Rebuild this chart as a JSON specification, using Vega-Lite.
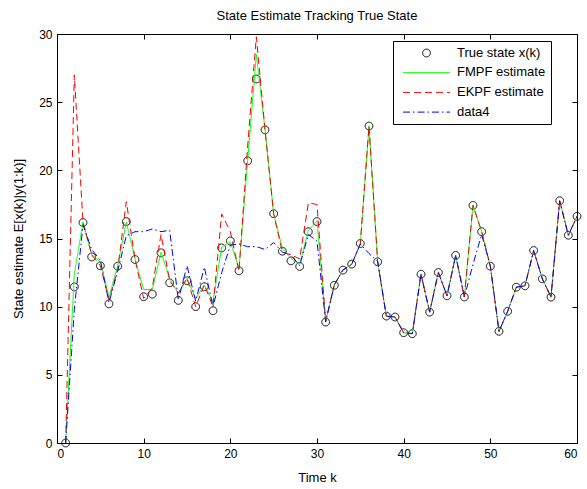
{
  "$schema": "https://vega.github.io/schema/vega-lite/v6.json",
  "width": 520,
  "height": 409,
  "autosize": {"type": "none"},
  "padding": {"left": 57, "top": 34, "right": 10, "bottom": 46},
  "background": "white",
  "title": {
    "text": "State Estimate Tracking True State",
    "font": "Liberation Sans",
    "fontSize": 13,
    "fontWeight": "normal",
    "color": "black",
    "offset": 5
  },
  "config": {
    "view": {"stroke": "black", "strokeWidth": 1},
    "axis": {
      "labelFont": "Liberation Sans",
      "labelFontSize": 12,
      "labelColor": "black",
      "titleFont": "Liberation Sans",
      "titleFontSize": 13,
      "titleFontWeight": "normal",
      "titleColor": "black",
      "grid": false,
      "domainColor": "black",
      "tickColor": "black",
      "tickSize": -5
    }
  },
  "data": {
    "values": [
      {"k": 1, "truth": 0, "fmpf": 0, "ekpf": 0, "data4": 0},
      {"k": 2, "truth": 11.45, "fmpf": 12.4, "ekpf": 27.0, "data4": 9.8},
      {"k": 3, "truth": 16.17, "fmpf": 16.2, "ekpf": 16.2, "data4": 16.0},
      {"k": 4, "truth": 13.65, "fmpf": 13.8, "ekpf": 13.8, "data4": 14.2},
      {"k": 5, "truth": 13.0, "fmpf": 13.3, "ekpf": 13.0, "data4": 13.4},
      {"k": 6, "truth": 10.21, "fmpf": 10.7, "ekpf": 10.5, "data4": 10.3},
      {"k": 7, "truth": 12.97, "fmpf": 13.0, "ekpf": 12.7, "data4": 12.6},
      {"k": 8, "truth": 16.24, "fmpf": 16.2, "ekpf": 17.7, "data4": 15.2},
      {"k": 9, "truth": 13.46, "fmpf": 13.5, "ekpf": 13.5, "data4": 15.5},
      {"k": 10, "truth": 10.73, "fmpf": 11.26, "ekpf": 10.6, "data4": 15.5},
      {"k": 11, "truth": 10.92, "fmpf": 11.26, "ekpf": 11.4, "data4": 15.7},
      {"k": 12, "truth": 13.95, "fmpf": 14.0, "ekpf": 15.3, "data4": 15.5},
      {"k": 13, "truth": 11.75, "fmpf": 12.07, "ekpf": 11.9, "data4": 15.6},
      {"k": 14, "truth": 10.46, "fmpf": 10.97, "ekpf": 11.0, "data4": 10.5},
      {"k": 15, "truth": 11.9, "fmpf": 12.07, "ekpf": 12.1, "data4": 13.0},
      {"k": 16, "truth": 10.0, "fmpf": 10.6, "ekpf": 10.0, "data4": 10.4},
      {"k": 17, "truth": 11.46, "fmpf": 11.58, "ekpf": 11.6, "data4": 12.9},
      {"k": 18, "truth": 9.7, "fmpf": 10.36, "ekpf": 10.0, "data4": 10.0},
      {"k": 19, "truth": 14.31, "fmpf": 14.38, "ekpf": 16.8, "data4": 12.5},
      {"k": 20, "truth": 14.82, "fmpf": 14.75, "ekpf": 15.5, "data4": 14.5},
      {"k": 21, "truth": 12.63, "fmpf": 12.8, "ekpf": 12.6, "data4": 14.6},
      {"k": 22, "truth": 20.7, "fmpf": 20.7, "ekpf": 21.8, "data4": 14.4},
      {"k": 23, "truth": 26.7, "fmpf": 28.5, "ekpf": 29.8, "data4": 14.4},
      {"k": 24, "truth": 22.97, "fmpf": 23.0, "ekpf": 23.0, "data4": 14.2},
      {"k": 25, "truth": 16.82, "fmpf": 16.82, "ekpf": 16.8, "data4": 14.7},
      {"k": 26, "truth": 14.07, "fmpf": 14.27, "ekpf": 14.0, "data4": 14.0},
      {"k": 27, "truth": 13.36, "fmpf": 13.53, "ekpf": 13.8, "data4": 13.8},
      {"k": 28, "truth": 12.95, "fmpf": 13.12, "ekpf": 13.5, "data4": 13.0},
      {"k": 29, "truth": 15.5, "fmpf": 15.6, "ekpf": 17.6, "data4": 15.3},
      {"k": 30, "truth": 16.24, "fmpf": 16.3, "ekpf": 17.5, "data4": 14.8},
      {"k": 31, "truth": 8.87, "fmpf": 8.95, "ekpf": 8.9, "data4": 8.9},
      {"k": 32, "truth": 11.57, "fmpf": 11.6, "ekpf": 11.6, "data4": 11.6},
      {"k": 33, "truth": 12.68, "fmpf": 12.7, "ekpf": 12.7, "data4": 12.7},
      {"k": 34, "truth": 13.12, "fmpf": 13.1, "ekpf": 13.1, "data4": 13.1},
      {"k": 35, "truth": 14.63, "fmpf": 14.63, "ekpf": 14.6, "data4": 14.6},
      {"k": 36, "truth": 23.25, "fmpf": 23.25, "ekpf": 23.25, "data4": 13.9},
      {"k": 37, "truth": 13.29, "fmpf": 13.29, "ekpf": 13.3, "data4": 13.3},
      {"k": 38, "truth": 9.31, "fmpf": 9.31, "ekpf": 9.3, "data4": 9.3},
      {"k": 39, "truth": 9.24, "fmpf": 9.24, "ekpf": 9.24, "data4": 9.24},
      {"k": 40, "truth": 8.09, "fmpf": 8.09, "ekpf": 8.09, "data4": 8.09},
      {"k": 41, "truth": 8.02, "fmpf": 8.02, "ekpf": 8.02, "data4": 8.02},
      {"k": 42, "truth": 12.38, "fmpf": 12.38, "ekpf": 12.38, "data4": 12.38},
      {"k": 43, "truth": 9.6, "fmpf": 9.6, "ekpf": 9.6, "data4": 9.6},
      {"k": 44, "truth": 12.51, "fmpf": 12.51, "ekpf": 12.51, "data4": 12.51},
      {"k": 45, "truth": 10.8, "fmpf": 10.8, "ekpf": 10.8, "data4": 10.8},
      {"k": 46, "truth": 13.76, "fmpf": 13.76, "ekpf": 13.76, "data4": 13.76},
      {"k": 47, "truth": 10.71, "fmpf": 10.71, "ekpf": 10.71, "data4": 10.71},
      {"k": 48, "truth": 17.43, "fmpf": 17.43, "ekpf": 17.43, "data4": 13.1},
      {"k": 49, "truth": 15.5, "fmpf": 15.5, "ekpf": 15.5, "data4": 15.3},
      {"k": 50, "truth": 12.97, "fmpf": 12.97, "ekpf": 12.97, "data4": 12.97},
      {"k": 51, "truth": 8.19, "fmpf": 8.19, "ekpf": 8.19, "data4": 8.19},
      {"k": 52, "truth": 9.66, "fmpf": 9.66, "ekpf": 9.66, "data4": 9.66},
      {"k": 53, "truth": 11.43, "fmpf": 11.43, "ekpf": 11.43, "data4": 11.43},
      {"k": 54, "truth": 11.53, "fmpf": 11.53, "ekpf": 11.53, "data4": 11.53},
      {"k": 55, "truth": 14.12, "fmpf": 14.12, "ekpf": 14.12, "data4": 14.12},
      {"k": 56, "truth": 12.04, "fmpf": 12.04, "ekpf": 12.04, "data4": 12.04},
      {"k": 57, "truth": 10.7, "fmpf": 10.7, "ekpf": 10.7, "data4": 10.7},
      {"k": 58, "truth": 17.77, "fmpf": 17.77, "ekpf": 17.77, "data4": 17.77},
      {"k": 59, "truth": 15.24, "fmpf": 15.24, "ekpf": 15.24, "data4": 15.24},
      {"k": 60, "truth": 16.63, "fmpf": 16.63, "ekpf": 16.63, "data4": 16.63}
    ]
  },
  "transform": [
    {"fold": ["truth", "fmpf", "ekpf", "data4"], "as": ["series", "value"]}
  ],
  "layer": [
    {
      "encoding": {
        "x": {
          "field": "k", "type": "quantitative",
          "scale": {"domain": [0, 60], "nice": false},
          "axis": {"title": "Time k", "values": [0, 10, 20, 30, 40, 50, 60], "labelPadding": 10, "titlePadding": 12}
        },
        "y": {
          "field": "value", "type": "quantitative",
          "scale": {"domain": [0, 30], "nice": false},
          "axis": {"title": "State estimate E[x(k)|y(1:k)]", "values": [0, 5, 10, 15, 20, 25, 30], "labelPadding": 10, "titlePadding": 13}
        },
        "color": {
          "field": "series", "type": "nominal",
          "scale": {"domain": ["truth", "fmpf", "ekpf", "data4"], "range": ["black", "#00ff00", "#ff0000", "#0000ff"]},
          "legend": {
            "orient": "none", "legendX": 336, "legendY": 7,
            "title": null,
            "strokeColor": "black", "fillColor": "white",
            "padding": 5, "rowPadding": 5.7, "labelOffset": 46,
            "labelFont": "Liberation Sans", "labelFontSize": 13, "labelColor": "black",
            "symbolSize": 100, "symbolStrokeWidth": 1,
            "labelExpr": "{'truth': 'True state x(k)', 'fmpf': 'FMPF estimate', 'ekpf': 'EKPF estimate', 'data4': 'data4'}[datum.value]",
            "encode": {
              "symbols": {
                "update": {
                  "x": {"value": 28.5},
                  "y": {"value": 7},
                  "shape": {"signal": "datum.value === 'truth' ? 'circle' : 'M-4.7,0H4.7'"},
                  "size": {"signal": "datum.value === 'truth' ? 60 : 100"},
                  "fill": {"value": "transparent"},
                  "stroke": {"signal": "{'truth': '#000000', 'fmpf': '#00ff00', 'ekpf': '#ff0000', 'data4': '#0000ff'}[datum.value]"},
                  "strokeDash": {"signal": "{'truth': [1, 0], 'fmpf': [1, 0], 'ekpf': [7, 4], 'data4': [7, 3, 1.5, 3]}[datum.value]"},
                  "strokeWidth": {"value": 1},
                  "strokeOpacity": {"value": 1},
                  "opacity": {"value": 1}
                }
              }
            }
          }
        },
        "strokeDash": {
          "field": "series", "type": "nominal",
          "scale": {"domain": ["truth", "fmpf", "ekpf", "data4"], "range": [[1, 0], [1, 0], [7, 4], [7, 3, 1.5, 3]]},
          "legend": null
        }
      },
      "layer": [
        {
          "transform": [{"filter": "datum.series === 'truth'"}],
          "mark": {"type": "point", "shape": "circle", "filled": false, "size": 60, "strokeWidth": 1, "opacity": 1}
        },
        {
          "transform": [{"filter": "datum.series === 'fmpf'"}],
          "mark": {"type": "line", "strokeWidth": 1}
        },
        {
          "transform": [{"filter": "datum.series === 'ekpf'"}],
          "mark": {"type": "line", "strokeWidth": 1}
        },
        {
          "transform": [{"filter": "datum.series === 'data4'"}],
          "mark": {"type": "line", "strokeWidth": 1}
        }
      ]
    },
    {
      "mark": {"type": "point", "opacity": 0},
      "encoding": {
        "x": {
          "field": "k", "type": "quantitative",
          "axis": {"orient": "top", "title": null, "labels": false, "values": [0, 10, 20, 30, 40, 50, 60]}
        },
        "y": {
          "field": "value", "type": "quantitative",
          "axis": {"orient": "right", "title": null, "labels": false, "values": [0, 5, 10, 15, 20, 25, 30]}
        }
      }
    }
  ],
  "resolve": {"axis": {"x": "independent", "y": "independent"}}
}
